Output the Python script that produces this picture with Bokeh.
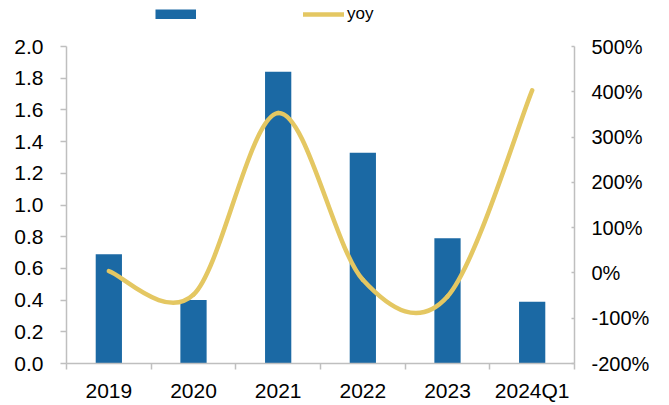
from bokeh.plotting import figure
from bokeh.layouts import column
from bokeh.models import (Range1d, LinearAxis, FixedTicker, NumeralTickFormatter,
                          Legend, LegendItem, ColumnDataSource)
from bokeh.embed import file_html
from bokeh.resources import INLINE

categories = ["2019", "2020", "2021", "2022", "2023", "2024Q1"]
values = [0.69, 0.40, 1.84, 1.33, 0.79, 0.39]
yoy = [0.04, -0.48, 3.53, -0.15, -0.52, 4.03]
left_ticks = [0.0, 0.2, 0.4, 0.6, 0.8, 1.0, 1.2, 1.4, 1.6, 1.8, 2.0]
right_ticks = [-2, -1, 0, 1, 2, 3, 4, 5]
legend_labels = [" ", "yoy"]

BLUE = "#1B69A4"
YELLOW = "#E4C762"
AXIS = "#BFBFBF"
FONT = "Liberation Sans"

n = len(categories)
xs = [i + 0.5 for i in range(n)]
src = ColumnDataSource(dict(x=xs, top=values, yoy=yoy))

# ---- legend strip (its sample renderers sit outside its visible range) ----
LH = 30
lg = figure(width=669, height=LH, output_backend="svg", toolbar_location=None,
            x_axis_type=None, y_axis_type=None, x_range=Range1d(100, 101), y_range=Range1d(100, 101),
            min_border_left=0, min_border_right=0, min_border_top=0, min_border_bottom=0)
lg.outline_line_color = None
lg.xgrid.visible = False
lg.ygrid.visible = False
lb = lg.line(x="x", y="top", source=src, line_color=BLUE, line_width=10, line_cap="butt")
ll = lg.line(x="x", y="yoy", source=src, line_color=YELLOW, line_width=4.5, line_cap="round")
legend = Legend(items=[LegendItem(label=legend_labels[0], renderers=[lb]),
                       LegendItem(label=legend_labels[1], renderers=[ll])],
                orientation="horizontal", location=(89, 6),
                glyph_width=41, glyph_height=10, label_height=10, label_width=0,
                label_standoff=3, spacing=104, padding=0, margin=0,
                border_line_color=None, background_fill_alpha=0,
                label_text_font=FONT, label_text_font_size="17px",
                label_text_color="#000000")
lg.add_layout(legend, "center")

# ---- main chart ----
p = figure(width=669, height=405 - LH, output_backend="svg", toolbar_location=None,
           x_range=Range1d(0, n), y_range=Range1d(0, 2.0),
           min_border_left=66, min_border_right=95, min_border_top=46 - LH,
           min_border_bottom=405 - 363)
p.outline_line_color = None
p.xgrid.visible = False
p.ygrid.visible = False
p.extra_y_ranges = {"yoy": Range1d(-2, 5)}

p.vbar(x="x", top="top", width=0.31, source=src, fill_color=BLUE, line_color=None)

# smooth line (Catmull-Rom via cubic Bezier segments)
x0, y0, x1, y1, cx0, cy0, cx1, cy1 = [], [], [], [], [], [], [], []
for i in range(n - 1):
    pa = (xs[i - 1], yoy[i - 1]) if i > 0 else (xs[i], yoy[i])
    pb = (xs[i], yoy[i])
    pc = (xs[i + 1], yoy[i + 1])
    pd = (xs[i + 2], yoy[i + 2]) if i + 2 < n else (xs[i + 1], yoy[i + 1])
    x0.append(pb[0]); y0.append(pb[1]); x1.append(pc[0]); y1.append(pc[1])
    cx0.append(pb[0] + (pc[0] - pa[0]) / 6); cy0.append(pb[1] + (pc[1] - pa[1]) / 6)
    cx1.append(pc[0] - (pd[0] - pb[0]) / 6); cy1.append(pc[1] - (pd[1] - pb[1]) / 6)
p.bezier(x0=x0, y0=y0, x1=x1, y1=y1, cx0=cx0, cy0=cy0, cx1=cx1, cy1=cy1,
         y_range_name="yoy", line_color=YELLOW, line_width=4.5, line_cap="round")

def style_labels(ax, size="21px"):
    ax.major_label_text_font = FONT
    ax.major_label_text_font_size = size
    ax.major_label_text_color = "#000000"

# left axis
ya = p.yaxis[0]
ya.ticker = FixedTicker(ticks=left_ticks, minor_ticks=[])
ya.formatter = NumeralTickFormatter(format="0.0")
ya.axis_line_color = AXIS
ya.axis_line_width = 1.5
ya.major_tick_line_color = AXIS
ya.major_tick_line_width = 1.5
ya.major_tick_out = 6
ya.major_tick_in = 0
ya.minor_tick_line_color = None
ya.major_label_standoff = 17
style_labels(ya)

# right axis
ra = LinearAxis(y_range_name="yoy", ticker=FixedTicker(ticks=right_ticks, minor_ticks=[]),
                formatter=NumeralTickFormatter(format="0%"))
ra.axis_line_color = AXIS
ra.axis_line_width = 1.5
ra.major_tick_line_color = AXIS
ra.major_tick_line_width = 1.5
ra.major_tick_out = 0
ra.major_tick_in = 3
ra.minor_tick_line_color = None
ra.major_label_standoff = 17
style_labels(ra, "20px")
p.add_layout(ra, "right")

# bottom axis
xa = p.xaxis[0]
xa.ticker = FixedTicker(ticks=xs, minor_ticks=list(range(n + 1)))
xa.major_label_overrides = {x: c for x, c in zip(xs, categories)}
xa.axis_line_color = AXIS
xa.axis_line_width = 1.5
xa.major_tick_line_color = None
xa.major_tick_in = 0
xa.major_tick_out = 0
xa.minor_tick_line_color = AXIS
xa.minor_tick_line_width = 1.5
xa.minor_tick_in = 0
xa.minor_tick_out = 6
xa.major_label_standoff = 9
style_labels(xa)

layout = column(lg, p, spacing=0)
open("out.html", "w").write(file_html(layout, INLINE))
